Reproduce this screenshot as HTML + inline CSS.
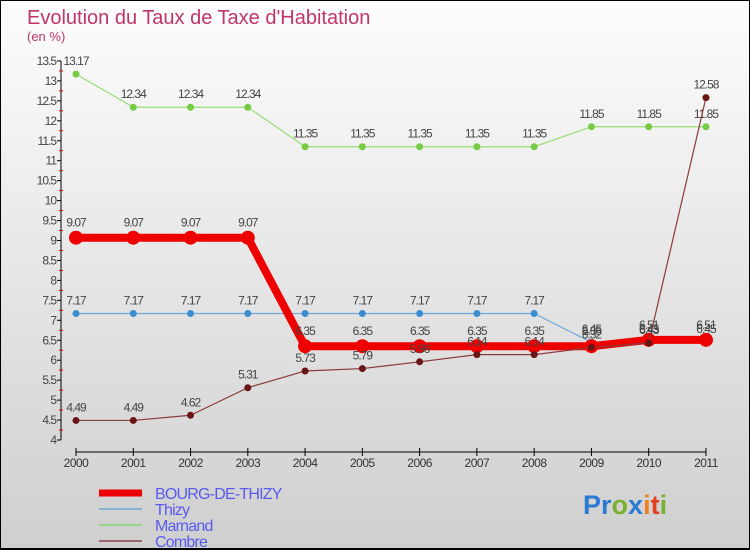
<!DOCTYPE html>
<html><head><meta charset="utf-8"><style>
body{margin:0;}
#wrap{width:750px;height:550px;position:relative;box-sizing:border-box;border:1px solid #000;border-bottom:2px solid #000;background:linear-gradient(#fdfdfd,#cfcfcf);font-family:"Liberation Sans",sans-serif;overflow:hidden}
</style></head><body>
<div id="wrap">
<svg id="svg" width="750" height="550" style="position:absolute;left:-1px;top:-1px"></svg>
</div>
<script>
const years=[2000,2001,2002,2003,2004,2005,2006,2007,2008,2009,2010,2011];
const bourg=[9.07,9.07,9.07,9.07,6.35,6.35,6.35,6.35,6.35,6.35,6.51,6.51];
const thizy=[7.17,7.17,7.17,7.17,7.17,7.17,7.17,7.17,7.17,6.45,6.45,6.45];
const marnand=[13.17,12.34,12.34,12.34,11.35,11.35,11.35,11.35,11.35,11.85,11.85,11.85];
const combre=[4.49,4.49,4.62,5.31,5.73,5.79,5.96,6.14,6.14,6.32,6.43,12.58];
const yTicks=[4,4.5,5,5.5,6,6.5,7,7.5,8,8.5,9,9.5,10,10.5,11,11.5,12,12.5,13,13.5];
const NS="http://www.w3.org/2000/svg";
const svg=document.getElementById('svg');
function X(i){return 76+i*57.27;}
function Y(v){return 440-(v-4)*39.9;}
function el(t,a,p){const e=document.createElementNS(NS,t);for(const k in a)e.setAttribute(k,a[k]);(p||svg).appendChild(e);return e;}
function fmt(v){return String(v);}
let t=el('text',{x:27,y:24,'font-size':20,fill:'#c0356a'});t.textContent="Evolution du Taux de Taxe d'Habitation";

t=el('text',{x:27,y:41,'font-size':13,fill:'#c0356a'});t.textContent="(en %)";

let ax=el('line',{x1:61,y1:Y(13.5),x2:61,y2:Y(4),stroke:'#000'});

yTicks.forEach(v=>{
 el('line',{x1:57,x2:61,y1:Y(v),y2:Y(v),stroke:'#000'});
 const l=el('text',{x:56,y:Y(v)+4,'font-size':12,fill:'#444','text-anchor':'end','letter-spacing':'-1'});l.textContent=v;
 
 if(v<13.5){el('line',{x1:59,x2:63,y1:Y(v+0.25),y2:Y(v+0.25),stroke:'#e00'});}
});
ax=el('line',{x1:X(0),y1:452,x2:X(11),y2:452,stroke:'#000'});

years.forEach((y,i)=>{
 el('line',{x1:X(i),x2:X(i),y1:448,y2:456,stroke:'#000'});
 const l=el('text',{x:X(i),y:467,'font-size':12,fill:'#333','text-anchor':'middle','letter-spacing':'-0.5'});l.textContent=y;
 
});
function series(data,color,w,r,ptColor,name){
 const g=el('g',{});
 
 el('polyline',{points:data.map((v,i)=>X(i)+','+Y(v)).join(' '),fill:'none',stroke:color,'stroke-width':w,'stroke-linejoin':'round'},g);
 data.forEach((v,i)=>{
  const c=el('circle',{cx:X(i),cy:Y(v),r:r,fill:ptColor},g);
  
  const l=el('text',{x:X(i),y:Y(v)-9-(r>5?2:0),'font-size':12,fill:'#444','text-anchor':'middle','letter-spacing':'-1'},g);l.textContent=fmt(v);
  
 });
}
series(marnand,'#99dd77',1.2,3.5,'#77cc44','marnand');
series(thizy,'#6fa8d6',1.2,3.5,'#3a8ed0','thizy');
series(bourg,'#ee0000',8,7,'#ee0000','bourg');
series(combre,'#8b3a3a',1.2,3.5,'#6a1515','combre');
const leg=[['BOURG-DE-THIZY','#ee0000',7],['Thizy','#88b4d4',2],['Marnand','#99d488',2],['Combre','#9a6a6a',2]];
leg.forEach((d,i)=>{
 const y=493+i*16;
 const g=el('g',{});
 el('line',{x1:99,x2:142,y1:y,y2:y,stroke:d[1],'stroke-width':d[2]},g);
 const l=el('text',{x:155,y:y+6,'font-size':16,fill:'#5a5aee','letter-spacing':'-0.8'},g);l.textContent=d[0];
});
const lg=el('text',{x:583,y:514,'font-size':27,'font-family':'Liberation Sans, sans-serif','font-weight':'bold'});

[['P','#2a7ad4'],['r','#2a7ad4'],['o','#7ab030'],['x','#2a7ad4'],['i','#f08020'],['t','#e04020'],['i','#7ab030']].forEach(c=>{const s=el('tspan',{fill:c[1]},lg);s.textContent=c[0];});
</script>
</body></html>
